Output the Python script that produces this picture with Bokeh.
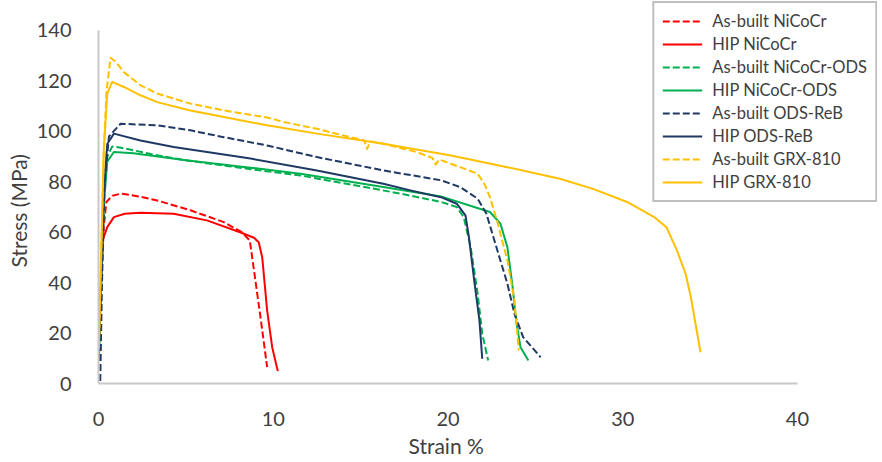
from bokeh.plotting import figure
from bokeh.models import Range1d, FixedTicker, Legend, LegendItem, Title
from bokeh.embed import file_html
from bokeh.resources import INLINE

# ---- data (strain %, stress MPa) ----
ab_nicocr_x = [0.02, 0.12, 0.3, 0.45, 0.8, 1.3, 2.3, 3.36, 5.26, 7.17, 8.2, 8.66, 8.9, 9.27, 9.65]
ab_nicocr_y = [12, 35, 62, 72, 74.5, 75.3, 74.2, 72.6, 68.7, 64.0, 60.0, 56.7, 44.8, 26.3, 6.5]

hip_nicocr_x = [0.02, 0.12, 0.25, 0.5, 0.88, 1.5, 2.4, 4.3, 6.2, 8.1, 8.9, 9.17, 9.37, 9.65, 9.94, 10.26]
hip_nicocr_y = [14, 35, 57, 62, 66, 67.3, 67.7, 67.3, 64.7, 60.0, 57.8, 56.0, 50.0, 29.0, 14.4, 4.9]

ab_ods_x = [0.02, 0.3, 0.5, 0.78, 1.3, 3.0, 5.0, 8.7, 11.56, 17.3, 19.6, 20.5, 20.9, 21.3, 21.7, 21.96, 22.3]
ab_ods_y = [9, 72, 90, 94, 93.5, 91, 88.5, 85, 82.5, 75.3, 72, 70, 66, 54, 35.6, 19.7, 9.1]

hip_ods_x = [0.02, 0.3, 0.5, 0.88, 2.0, 5.0, 8.7, 11.56, 16.3, 19.6, 21.5, 22.4, 23.0, 23.4, 23.7, 23.9, 24.15, 24.6]
hip_ods_y = [9, 70, 88, 91.8, 91.3, 88.5, 85.6, 83.2, 77.9, 74.2, 70, 68, 63.4, 54, 38.2, 25, 14.4, 9.1]

ab_reb_x = [0.1, 0.2, 0.35, 0.6, 1.26, 3.36, 5.26, 7.17, 9.65, 12.5, 16.3, 19.6, 20.7, 21.7, 22.2, 22.6, 23.0, 23.4, 23.8, 24.3, 25.3]
ab_reb_y = [1, 40, 80, 98, 103, 102.4, 100.4, 97.7, 94.4, 89.8, 84.5, 80.6, 77.9, 73.3, 67.3, 58, 48.8, 39.6, 27.7, 18.4, 10.4]

hip_reb_x = [0.02, 0.3, 0.5, 0.88, 2.4, 4.3, 8.7, 12.5, 16.3, 17.85, 19.6, 20.5, 21.0, 21.2, 21.5, 21.8, 21.96]
hip_reb_y = [15, 75, 95, 99.1, 96.4, 93.8, 89.2, 84.5, 79.2, 76.6, 73.9, 71.3, 66.7, 58, 40.9, 25, 9.8]

ab_grx_x = [0.02, 0.3, 0.46, 0.69, 1.0, 1.45, 2.4, 3.36, 5.26, 7.17, 9.65, 10.6, 12.5, 14.4, 15.2, 15.37, 15.55, 16.3, 18.2, 19.1, 19.3, 19.5, 20.7, 21.7, 22.1, 22.4, 22.8, 23.4, 23.8, 24.05]
ab_grx_y = [14, 92, 116, 129.2, 127.5, 123.5, 118.3, 115, 111, 108.3, 105.5, 103.7, 101, 97.7, 96.5, 93, 96, 95.1, 91.8, 89.5, 86.8, 88.8, 85.8, 83.2, 79, 73.9, 64.7, 48.8, 32.9, 13.1]

hip_grx_x = [0.02, 0.3, 0.5, 0.78, 1.45, 2.4, 3.36, 5.26, 7.17, 9.65, 12.5, 16.3, 20.1, 23.4, 26.4, 28.3, 30.25, 31.8, 32.5, 33.1, 33.6, 33.9, 34.2, 34.45]
hip_grx_y = [14, 92, 115, 119.6, 117.6, 114.3, 111.6, 108.3, 105.7, 102.4, 99.1, 95.1, 90.5, 85.8, 81.2, 77.2, 72, 66, 62, 52.8, 43.5, 34.2, 22.3, 12.4]

series_names = ["As-built NiCoCr", "HIP NiCoCr", "As-built NiCoCr-ODS", "HIP NiCoCr-ODS",
                "As-built ODS-ReB", "HIP ODS-ReB", "As-built GRX-810", "HIP GRX-810"]
series_x = [ab_nicocr_x, hip_nicocr_x, ab_ods_x, hip_ods_x, ab_reb_x, hip_reb_x, ab_grx_x, hip_grx_x]
series_y = [ab_nicocr_y, hip_nicocr_y, ab_ods_y, hip_ods_y, ab_reb_y, hip_reb_y, ab_grx_y, hip_grx_y]
series_colors = ["#FF0000", "#FF0000", "#00B050", "#00B050", "#1F3864", "#1F3864", "#FFC000", "#FFC000"]
series_dashed = [True, False, True, False, True, False, True, False]

x_ticks = [0, 10, 20, 30, 40]
y_ticks = [0, 20, 40, 60, 80, 100, 120, 140]

FONT = "Lato"
TXT = "#404040"

p = figure(width=878, height=462, output_backend="svg", toolbar_location=None,
           x_range=Range1d(0, 44.58), y_range=Range1d(0, 151.5),
           min_border_left=91, min_border_right=1, min_border_top=1, min_border_bottom=79)
p.outline_line_color = None
p.xgrid.visible = False
p.ygrid.visible = False
p.background_fill_color = "white"
p.border_fill_color = "white"

for ax, ticks in ((p.xaxis[0], x_ticks), (p.yaxis[0], y_ticks)):
    ax.ticker = FixedTicker(ticks=ticks)
    ax.bounds = (ticks[0], ticks[-1])
    ax.axis_line_color = "#C8C8C8"
    ax.axis_line_width = 2
    ax.major_tick_line_color = None
    ax.minor_tick_line_color = None
    ax.major_label_text_font = FONT
    ax.major_label_text_font_size = "20px"
    ax.major_label_text_color = TXT
p.xaxis.major_label_standoff = 22
p.yaxis.major_label_standoff = 21

# axis titles, positioned along the axes like the original
xt = Title(text="Strain %", align="left", offset=310, standoff=5,
           text_font=FONT, text_font_size="21px", text_font_style="normal", text_color=TXT)
yt = Title(text="Stress (MPa)", align="left", offset=116, standoff=6,
           text_font=FONT, text_font_size="21px", text_font_style="normal", text_color=TXT)
p.add_layout(xt, "below")
p.add_layout(yt, "left")

items = []
for name, xs, ys, c, d in zip(series_names, series_x, series_y, series_colors, series_dashed):
    r = p.line(xs, ys, line_color=c, line_width=2,
               line_dash="7 3" if d else "solid", line_join="round")
    items.append(LegendItem(label=name, renderers=[r]))

legend = Legend(items=items, location="top_right")
legend.label_text_font = FONT
legend.label_text_font_size = "16.5px"
legend.label_text_color = TXT
legend.glyph_width = 40
legend.glyph_height = 20
legend.label_height = 20
legend.label_standoff = 10
legend.spacing = 3
legend.padding = 8
legend.margin = 0
legend.border_line_color = "#7F7F7F"
legend.border_line_width = 2
legend.background_fill_color = "white"
legend.background_fill_alpha = 1
p.add_layout(legend, "center")

open("out.html", "w").write(file_html(p, INLINE))
